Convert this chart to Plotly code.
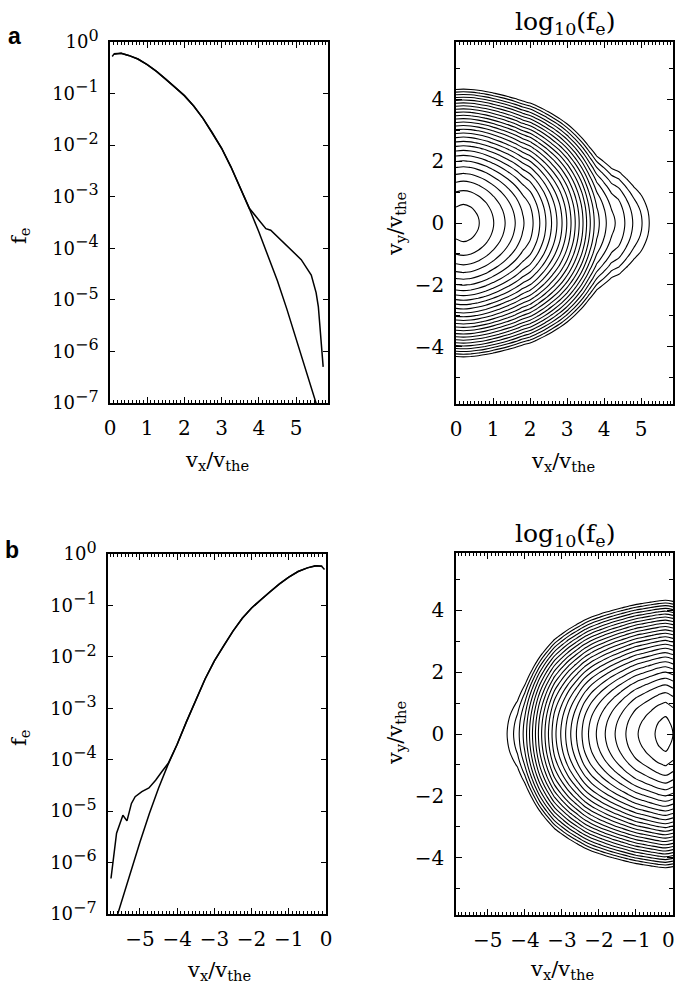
import numpy as np
import plotly.graph_objects as go

W, H = 677, 984

# ---------------- Panel a: 1D cuts (vx > 0) ----------------
vx_a_fit = [0.10, 0.30, 0.50, 0.75, 1.00, 1.25, 1.50, 1.75, 2.00, 2.25, 2.50, 2.75,
            3.00, 3.25, 3.50, 3.75, 4.00, 4.25, 4.50, 4.75, 5.00, 5.25, 5.50, 5.56]
logfe_a_fit = [-0.23, -0.22, -0.26, -0.33, -0.44, -0.57, -0.72, -0.88, -1.04, -1.24, -1.48, -1.76,
               -2.06, -2.42, -2.82, -3.24, -3.68, -4.14, -4.63, -5.17, -5.74, -6.32, -6.92, -7.05]

vx_a_sim = [0.06, 0.10, 0.30, 0.50, 0.75, 1.00, 1.25, 1.50, 1.75, 2.00, 2.25, 2.50, 2.75,
            3.00, 3.25, 3.50, 3.75, 4.00, 4.19, 4.32, 4.59, 4.81, 5.00, 5.14, 5.41, 5.54, 5.60, 5.73]
logfe_a_sim = [-0.28, -0.24, -0.22, -0.26, -0.33, -0.44, -0.57, -0.72, -0.88, -1.04, -1.24, -1.48, -1.76,
               -2.06, -2.42, -2.82, -3.23, -3.45, -3.62, -3.65, -3.84, -4.00, -4.12, -4.22, -4.52, -4.86, -5.13, -6.30]

# ---------------- Panel b: 1D cuts (vx < 0) ----------------
vx_b_fit = [-0.10, -0.30, -0.50, -0.75, -1.00, -1.25, -1.50, -1.75, -2.00, -2.25, -2.50, -2.75,
            -3.00, -3.25, -3.50, -3.75, -4.00, -4.25, -4.50, -4.75, -5.00, -5.25, -5.50, -5.62]
logfe_b_fit = [-0.24, -0.23, -0.27, -0.34, -0.45, -0.58, -0.73, -0.89, -1.05, -1.25, -1.50, -1.78,
               -2.08, -2.43, -2.84, -3.26, -3.70, -4.10, -4.55, -5.05, -5.60, -6.18, -6.78, -7.05]

vx_b_sim = [-0.04, -0.12, -0.25, -0.50, -0.75, -1.00, -1.25, -1.50, -1.75, -2.00, -2.25, -2.50, -2.75,
            -3.00, -3.25, -3.50, -3.75, -4.00, -4.24, -4.40, -4.58, -4.76, -4.95, -5.13, -5.23, -5.35,
            -5.46, -5.63, -5.78]
logfe_b_sim = [-0.30, -0.24, -0.23, -0.27, -0.34, -0.45, -0.58, -0.73, -0.89, -1.05, -1.25, -1.50, -1.78,
               -2.08, -2.43, -2.84, -3.26, -3.70, -4.07, -4.22, -4.40, -4.55, -4.62, -4.72, -4.85, -5.19,
               -5.08, -5.43, -6.31]

# ---------------- 2D distributions log10(fe) ----------------
vx_grid_a = [0.0, 0.2, 0.4, 0.6, 0.8, 1.0, 1.2, 1.4, 1.6, 1.8, 2.0, 2.2, 2.4, 2.6, 2.8,
             3.0, 3.2, 3.4, 3.6, 3.8, 4.0, 4.2, 4.4, 4.6, 4.8, 5.0, 5.2, 5.4, 5.6, 5.8]
logf_par_a = [-0.24, -0.22, -0.24, -0.29, -0.36, -0.45, -0.55, -0.66, -0.78, -0.92, -1.03, -1.20, -1.39,
              -1.60, -1.82, -2.07, -2.35, -2.65, -2.98, -3.28, -3.45, -3.62, -3.70, -3.85, -4.00, -4.12,
              -4.28, -4.50, -5.15, -6.50]

vx_grid_b = [-5.8, -5.6, -5.4, -5.2, -5.0, -4.8, -4.6, -4.4, -4.2, -4.0, -3.8, -3.6, -3.4, -3.2, -3.0,
             -2.8, -2.6, -2.4, -2.2, -2.0, -1.8, -1.6, -1.4, -1.2, -1.0, -0.8, -0.6, -0.4, -0.2, 0.0]
logf_par_b = [-6.40, -5.38, -5.13, -4.78, -4.61, -4.57, -4.42, -4.22, -4.05, -3.75, -3.35, -2.95, -2.60,
              -2.27, -2.02, -1.78, -1.57, -1.36, -1.19, -1.05, -0.92, -0.80, -0.69, -0.58, -0.48, -0.41,
              -0.34, -0.27, -0.23, -0.30]

vperp_abs = [0.0, 0.2, 0.4, 0.6, 0.8, 1.0, 1.2, 1.4, 1.6, 1.8, 2.0, 2.2, 2.4, 2.6, 2.8,
             3.0, 3.2, 3.4, 3.6, 3.8, 4.0, 4.2, 4.4, 4.6, 4.8, 5.0, 5.2, 5.4, 5.6, 5.8]
logf_perp = [0.0, -0.01, -0.035, -0.078, -0.139, -0.217, -0.313, -0.425, -0.556, -0.703, -0.868, -1.05,
             -1.25, -1.47, -1.70, -1.95, -2.22, -2.51, -2.81, -3.13, -3.47, -3.83, -4.20, -4.59, -5.00,
             -5.43, -5.87, -6.33, -6.81, -7.30]

log_tickvals = [1e-7, 1e-6, 1e-5, 1e-4, 1e-3, 1e-2, 1e-1, 1e0]
log_exponents = ["−7", "−6", "−5", "−4", "−3", "−2", "−1", "0"]
neg_x_tickvals = [-5, -4, -3, -2, -1, 0]
neg_x_ticktext = ["−5", "−4", "−3", "−2", "−1", ""]   # the "0" at the page edge is an annotation

# build tables
vy_grid = [-v for v in vperp_abs[::-1]] + vperp_abs[1:]
Ly = np.array(logf_perp[::-1] + logf_perp[1:])
z_a = Ly[:, None] + np.array(logf_par_a)[None, :]
z_b = Ly[:, None] + np.array(logf_par_b)[None, :]
log_ticktext = ["10<sup><span style='font-size:16px'>%s</span></sup>" % e for e in log_exponents]

SERIF = "DejaVu Serif"
LINE = dict(color="black", width=1.5)

fig = go.Figure()
fig.add_trace(go.Scatter(x=vx_a_fit, y=10 ** np.array(logfe_a_fit), mode="lines", line=LINE,
                         xaxis="x", yaxis="y", showlegend=False))
fig.add_trace(go.Scatter(x=vx_a_sim, y=10 ** np.array(logfe_a_sim), mode="lines", line=LINE,
                         xaxis="x", yaxis="y", showlegend=False))
fig.add_trace(go.Scatter(x=vx_b_fit, y=10 ** np.array(logfe_b_fit), mode="lines", line=LINE,
                         xaxis="x3", yaxis="y3", showlegend=False))
fig.add_trace(go.Scatter(x=vx_b_sim, y=10 ** np.array(logfe_b_sim), mode="lines", line=LINE,
                         xaxis="x3", yaxis="y3", showlegend=False))

contour_opts = dict(contours=dict(start=-4.3, end=-0.30, size=0.16, coloring="none"),
                    line=dict(color="black", width=1.1, smoothing=1.0),
                    showscale=False, hoverinfo="skip")
fig.add_trace(go.Contour(x=vx_grid_a, y=vy_grid, z=z_a, xaxis="x2", yaxis="y2", **contour_opts))
fig.add_trace(go.Contour(x=vx_grid_b, y=vy_grid, z=z_b, xaxis="x4", yaxis="y4", **contour_opts))


def px(x):
    return x / W


def py(y):
    return 1 - y / H


tickfont = dict(family=SERIF, size=20, color="black")
base_axis = dict(showline=True, linecolor="black", linewidth=1.5, mirror="allticks", ticks="inside",
                 tickcolor="black", tickwidth=1, showgrid=False, zeroline=False, tickfont=tickfont,
                 automargin=False, ticklabeloverflow="allow")


def xaxis_cfg(dom, rng, anchor, negative=False):
    d = dict(base_axis)
    d.update(domain=dom, range=rng, anchor=anchor, ticklen=6, ticklabelstandoff=6,
             minor=dict(dtick=0.1, tick0=0, ticklen=3, ticks="inside", tickcolor="black", tickwidth=1))
    if negative:
        d.update(tickmode="array", tickvals=neg_x_tickvals, ticktext=neg_x_ticktext)
    else:
        d.update(dtick=1, tick0=0)
    return d


def ylog_cfg(dom, anchor):
    d = dict(base_axis)
    d.update(domain=dom, type="log", range=[-7, 0], anchor=anchor, tickvals=log_tickvals,
             ticktext=log_ticktext, ticklen=5, ticklabelstandoff=6,
             tickfont=dict(family=SERIF, size=18, color="black"))
    return d


def ycont_cfg(dom, anchor):
    d = dict(base_axis)
    d.update(domain=dom, range=[-5.86, 5.86], anchor=anchor, dtick=2, tick0=0, ticklen=6,
             ticklabelstandoff=6,
             minor=dict(dtick=1, tick0=0, ticklen=4, ticks="inside", tickcolor="black", tickwidth=1))
    return d


fig.update_layout(
    width=W, height=H, margin=dict(l=0, r=0, t=0, b=0, pad=0, autoexpand=False),
    paper_bgcolor="white", plot_bgcolor="white", showlegend=False,
    xaxis=xaxis_cfg([px(110), px(328)], [0, 5.86], "y"),
    yaxis=ylog_cfg([py(403), py(42)], "x"),
    xaxis2=xaxis_cfg([px(456), px(673)], [0, 5.86], "y2"),
    yaxis2=ycont_cfg([py(404), py(42)], "x2"),
    xaxis3=xaxis_cfg([px(108), px(326)], [-5.86, 0], "y3"),
    yaxis3=ylog_cfg([py(914), py(554)], "x3"),
    xaxis4=xaxis_cfg([px(456), px(673)], [-5.86, 0], "y4", negative=True),
    yaxis4=ycont_cfg([py(915), py(553)], "x4"),
)

annotations = []


def add_text(text, x, y, size=21, angle=0, family=SERIF, bold=False):
    if bold:
        text = "<b>" + text + "</b>"
    annotations.append(dict(text=text, x=px(x), y=py(y), xref="paper", yref="paper",
                            xanchor="center", yanchor="middle", showarrow=False, textangle=angle,
                            font=dict(family=family, size=size, color="black")))


vxlabel = "v<sub>x</sub>/v<sub>the</sub>"
vylabel = "v<sub>y</sub>/v<sub>the</sub>"
felabel = "f<sub>e</sub>"
title = "log<sub>10</sub>(f<sub>e</sub>)"

add_text(vxlabel, 217, 461)
add_text(vxlabel, 563, 462)
add_text(vxlabel, 219, 971)
add_text(vxlabel, 562, 970)
add_text(felabel, 20, 236, angle=-90)
add_text(felabel, 20, 738, angle=-90)
add_text(vylabel, 396, 224, angle=-90)
add_text(vylabel, 396, 733, angle=-90)
add_text(title, 565, 23, size=25)
add_text(title, 565, 535, size=25)
add_text("a", 14, 36, size=23, family="Liberation Sans", bold=True)
add_text("b", 12, 550, size=23, family="Liberation Sans", bold=True)
add_text("0", 668, 940, size=20)

fig.update_layout(annotations=annotations)
fig.write_html("out.html")
